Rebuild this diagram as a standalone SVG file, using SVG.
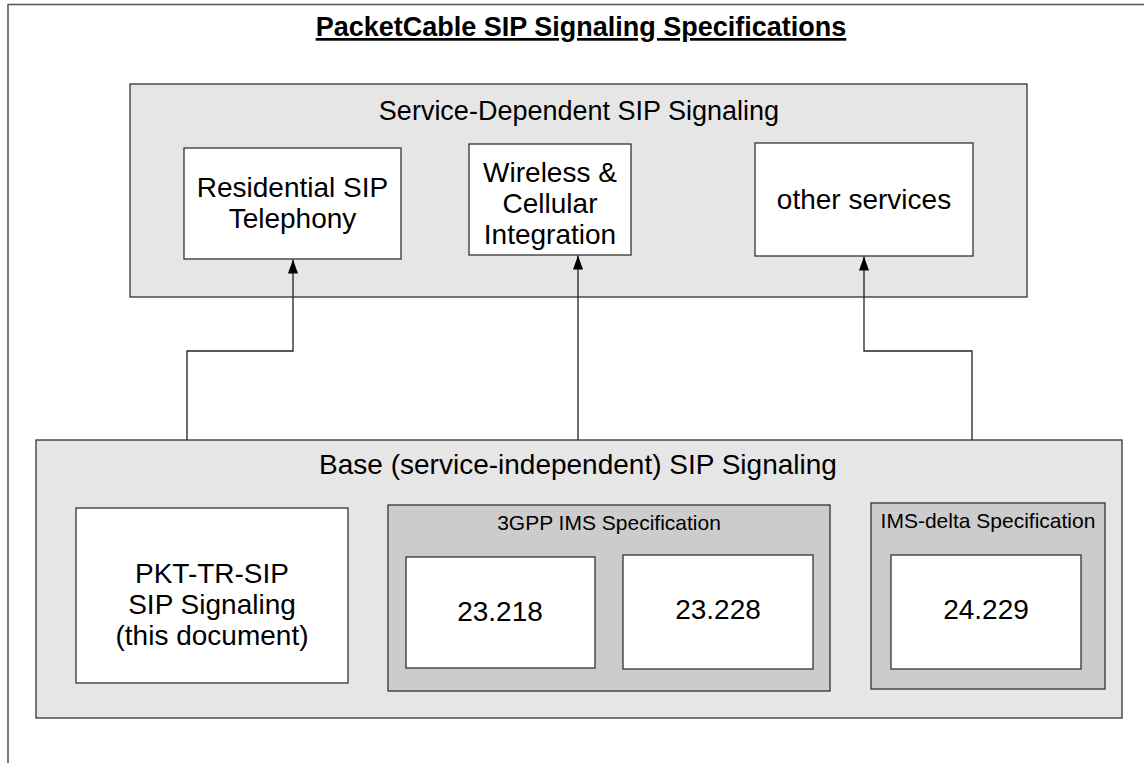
<svg xmlns="http://www.w3.org/2000/svg" width="1144" height="763" viewBox="0 0 1144 763">
<defs>
<marker id="arr" markerWidth="14" markerHeight="10" refX="14" refY="5" orient="auto" markerUnits="userSpaceOnUse" viewBox="0 0 14 10">
<path d="M0,0 L14,5 L0,10 Z" fill="#000"/>
</marker>
</defs>
<style>
.t{font-family:"Liberation Sans",Arial,sans-serif;fill:#000;text-anchor:middle}
.big{font-size:28px}
.hdr{font-size:27px}
.small{font-size:21px}
.title{font-size:27px;font-weight:bold;text-decoration:underline}
.light{fill:#e6e6e6;stroke:#333;stroke-width:1.3}
.mid{fill:#cccccc;stroke:#333;stroke-width:1.3}
.white{fill:#fff;stroke:#333;stroke-width:1.3}
.conn{fill:none;stroke:#222;stroke-width:1.3}
</style>
<rect width="1144" height="763" fill="#fff"/>
<path d="M8,763 V4.5 H1144" fill="none" stroke="#555" stroke-width="1.5"/>
<text class="t title" x="581" y="36">PacketCable SIP Signaling Specifications</text>

<g id="service-dependent">
<rect class="light" x="130" y="84" width="897" height="213"/>
<text class="t hdr" x="579" y="120">Service-Dependent SIP Signaling</text>
</g>
<g id="residential">
<rect class="white" x="184" y="148" width="217" height="111"/>
<text class="t big" x="292.5" y="197">Residential SIP</text>
<text class="t big" x="292.5" y="228">Telephony</text>
</g>
<g id="wireless">
<rect class="white" x="469" y="144" width="162" height="111"/>
<text class="t big" x="550" y="182">Wireless &amp;</text>
<text class="t big" x="550" y="213">Cellular</text>
<text class="t big" x="550" y="244">Integration</text>
</g>
<g id="other">
<rect class="white" x="755" y="143" width="218" height="113"/>
<text class="t big" x="864" y="209">other services</text>
</g>

<g id="base">
<rect class="light" x="36" y="440" width="1086" height="278"/>
<text class="t big" x="578" y="474">Base (service-independent) SIP Signaling</text>
</g>
<g id="pkt">
<rect class="white" x="76" y="508" width="272" height="175"/>
<text class="t big" x="212" y="583">PKT-TR-SIP</text>
<text class="t big" x="212" y="614">SIP Signaling</text>
<text class="t big" x="212" y="645">(this document)</text>
</g>
<g id="gpp">
<rect class="mid" x="388" y="505" width="442" height="186"/>
<text class="t small" x="609" y="530">3GPP IMS Specification</text>
</g>
<g id="n23218">
<rect class="white" x="406" y="557" width="189" height="111"/>
<text class="t big" x="500" y="621">23.218</text>
</g>
<g id="n23228">
<rect class="white" x="623" y="555" width="190" height="114"/>
<text class="t big" x="718" y="619">23.228</text>
</g>
<g id="imsdelta">
<rect class="mid" x="871" y="503" width="234" height="186"/>
<text class="t small" x="988" y="528">IMS-delta Specification</text>
</g>
<g id="n24229">
<rect class="white" x="891" y="555" width="190" height="114"/>
<text class="t big" x="986" y="619">24.229</text>
</g>

<g id="connectors">
<path class="conn" d="M187,440 V351 H293 V259.5" marker-end="url(#arr)"/>
<path class="conn" d="M578,440 V255.5" marker-end="url(#arr)"/>
<path class="conn" d="M972,440 V351 H864 V256.5" marker-end="url(#arr)"/>
</g>
</svg>
